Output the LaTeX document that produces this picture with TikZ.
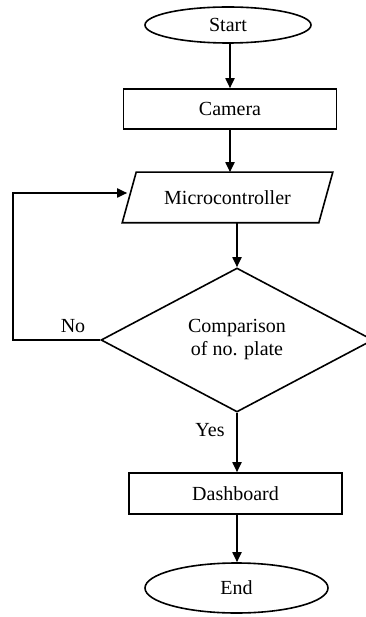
\documentclass[tikz,border=0pt]{standalone}
\usepackage{fontspec}
\setmainfont{Liberation Serif}
\usetikzlibrary{shapes.geometric,arrows.meta,calc}
\begin{document}
\begin{tikzpicture}[x=1pt,y=-1pt,
  every node/.style={font=\fontsize{20}{23}\selectfont, inner sep=0pt, line width=1.6pt},
  conn/.style={line width=1.8pt, -{Triangle[length=10pt,width=9pt]}},
  termbox/.style={draw, ellipse},
  procbox/.style={draw, rectangle},
  iobox/.style={rectangle},
  decbox/.style={draw, diamond, align=center},
  lbl/.style={}]
\useasboundingbox (0,0) rectangle (365,617);
\node[termbox, minimum width=166pt, minimum height=36pt] (start) at (228,25) {Start};
\node[procbox, minimum width=213pt, minimum height=40pt] (cam) at (230,109) {Camera};
\node[iobox, minimum width=195pt, minimum height=49pt] (mc) at (227.5,197.5) {Microcontroller};
\draw[line width=1.6pt] ($(mc.north west)+(7,0)$) -- ($(mc.north east)+(7,0)$) -- ($(mc.south east)+(-7,0)$) -- ($(mc.south west)+(-7,0)$) -- cycle;
\node[decbox, minimum width=272pt, minimum height=144pt] (dia) at (237,340) {Comparison\\of no. plate};
\node[procbox, minimum width=213pt, minimum height=41pt] (dash) at (235.5,493.5) {Dashboard};
\node[termbox, minimum width=183pt, minimum height=50pt] (end) at (236.5,588) {End};
\node[lbl] (no) at (73,326) {No};
\node[lbl] (yes) at (210,430) {Yes};
\coordinate (lp) at (13,193);
\draw[conn] (start.south -| cam.north) -- (cam.north);
\draw[conn] (cam.south) -- (cam.south |- mc.north);
\draw[conn] (dia.north |- mc.south) -- (dia.north);
\draw[conn] (dia.south) -- (dia.south |- dash.north);
\draw[conn] (dash.south -| dia.south) -- (dia.south |- end.north);
\draw[conn] (dia.west) -| (lp) -- ($(lp -| mc.west)+(-2,0)$);
\end{tikzpicture}
\end{document}
